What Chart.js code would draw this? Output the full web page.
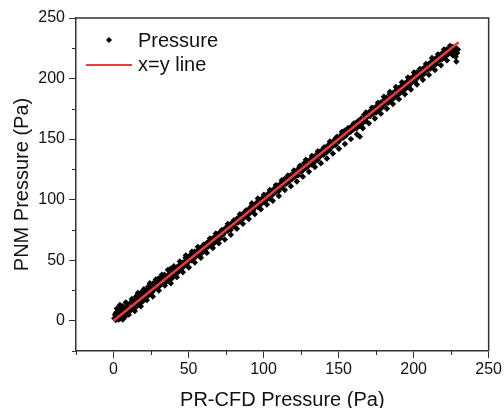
<!DOCTYPE html>
<html>
<head>
<meta charset="utf-8">
<script src="https://cdn.jsdelivr.net/npm/chart.js@4/dist/chart.umd.min.js"></script>
<style>
  html, body { margin: 0; padding: 0; background: #fff; }
  #wrap { width: 504px; height: 408px; }
</style>
</head>
<body>
<div id="wrap"><canvas id="myChart" width="504" height="408"></canvas></div>
<script>
// [PR-CFD pressure, PNM pressure]
const pressurePoints = [
  [0.5,2],[1,5],[1.5,0.5],[2,7],[2.5,3],[3,9],[3.5,4],[4,6],[4.5,11],[5,2],[5.5,8],[6,12],[6.5,5],[7,9],
  [7.5,3],[8,10],[8.5,7],[9,14],[9.5,6],[10,11],[11,8],[11.5,15],[12,10],[13,17],[13.5,9],[14,13],[15,20],
  [15.5,12],[16,18],[17,22],[17.5,14],[18,19],[19,24],[19.5,16],[20,21],[21,18],[22,25],[22.5,20],[23,28],
  [24,22],[25,27],[26,24],[26.5,31],[27,26],[28,30],[29,27],[30,35],[31,29],[32,36],[32.5,31],[33,34],
  [34,38],[35,32],[36,37],[37,34],[38,43],[38.5,36],[39,35],[40,41],[41,39],[42,44],[43,40],[44,46],
  [45,42],[46,48],[47,45],[48,52],[49,47],[50,49],[51,54],[52,50],[53,51],[54,57],[55,53],[56,58],[57,55],
  [58,60],[59,56],[60,62],[61,58],[62,64],[63,61],[64,66],[65,62],[66,68],[67,64],[68,70],[69,66],[70,72],
  [71,68],[72,74],[73,71],[74,73],[75,77],[76,74],[77,79],[78,75],[79,81],[80,78],[81,80],[82,84],[83,81],
  [84,86],[85,83],[86,88],[87,85],[88,90],[89,87],[90,92],[91,89],[92,95],[93,91],[94,93],[95,97],[96,94],
  [97,99],[98,96],[99,101],[100,98],[101,103],[102,100],[103,105],[104,101],[105,107],[106,104],[107,109],
  [108,106],[109,111],[110,107],[111,113],[112,110],[113,112],[114,117],[115,113],[116,118],[117,115],
  [118,120],[119,117],[120,122],[121,119],[122,124],[123,120],[124,127],[125,123],[126,124],[127,130],
  [128,126],[129,131],[130,128],[131,133],[132,129],[133,135],[134,131],[135,137],[136,133],[137,139],
  [138,136],[139,141],[140,137],[141,143],[142,139],[143,145],[144,141],[145,147],[146,144],[147,149],
  [148,145],[149,152],[150,148],[151,150],[152,154],[153,151],[154,157],[155,153],[156,155],[157,159],
  [158,156],[159,161],[160,158],[161,163],[162,159],[163,165],[164,161],[165,167],[166,163],[167,170],
  [168,165],[169,168],[170,172],[171,169],[172,174],[173,171],[174,176],[175,172],[176,178],[177,174],
  [178,180],[179,176],[180,182],[181,179],[182,184],[183,180],[184,187],[185,182],[186,188],[187,184],
  [188,190],[189,186],[190,192],[191,188],[192,194],[193,190],[194,196],[195,192],[196,198],[197,194],
  [198,200],[199,197],[200,202],[201,198],[202,205],[203,201],[204,206],[205,202],[206,208],[207,204],
  [208,210],[209,207],[210,212],[211,208],[212,214],[213,210],[214,216],[215,212],[216,218],[217,215],
  [218,220],[219,216],[220,222],[221,218],[222,224],[223,220],[224,225],[225,222],[226,226],[227,223],
  [228,218],[229,221],[229.5,224],
  [1.5,6],[3.5,1],[5.5,4],[7.5,8],[9.5,10],[11.5,9],[13.5,14],[15.5,16],[17.5,19],[19.5,20],[21.5,23],
  [23.5,25],[25.5,24],[27.5,29],[29.5,31],[31.5,33],[33.5,32],[35.5,36],[37.5,39],[39.5,38],[41.5,42],
  [43.5,44],[45.5,45],[47.5,49],[49.5,51],[51.5,52],[53.5,55],[55.5,56],[57.5,57],[59.5,60],[61.5,61],
  [63.5,63],[65.5,66],[67.5,67],[69.5,69],[71.5,71],[73.5,75],[75.5,76],[77.5,77],[79.5,79],[81.5,82],
  [83.5,83],[85.5,86],[87.5,87],[89.5,89],[91.5,92],[93.5,94],[95.5,95],[97.5,97],[99.5,100],[101.5,101],
  [103.5,103],[105.5,105],[107.5,107],[109.5,109],[111.5,111],[113.5,114],[115.5,116],[117.5,117],
  [119.5,119],[121.5,121],[123.5,124],[125.5,126],[127.5,127],[129.5,129],[131.5,131],[133.5,134],
  [135.5,135],[137.5,137],[139.5,140],[141.5,141],[143.5,143],[145.5,145],[147.5,148],[149.5,150],
  [151.5,152],[153.5,153],[155.5,154],[157.5,157],[159.5,159],[161.5,161],[163.5,163],[165.5,165],
  [167.5,167],[169.5,170],[171.5,171],[173.5,173],[175.5,175],[177.5,177],[179.5,179],[181.5,182],
  [183.5,183],[185.5,185],[187.5,187],[189.5,189],[191.5,191],[193.5,193],[195.5,195],[197.5,197],
  [199.5,199],[201.5,201],[203.5,204],[205.5,205],[207.5,207],[209.5,209],[211.5,211],[213.5,213],
  [215.5,215],[217.5,217],[219.5,219],[221.5,221],[223.5,223],[225.5,224],
  [2.2,10],[4.2,13],[6.2,1],[8.2,15],[10.2,5],[12.2,18],[14.2,8],[16.2,23],[18.2,12],[20.2,26],[22.2,17],
  [24.2,31],[26.2,20],[28.2,34],[30.2,25],[32.2,38],[34.2,29],[36.2,42],[38.2,31],[40.2,45],[42.2,36],
  [44.2,49],[46.2,40],[48.2,54],[50.2,44],[52.2,57],[54.2,48],[56.2,61],[58.2,52],[60.2,63],[62.2,56],
  [64.2,68],[66.2,60],[68.2,72],[70.2,64],[72.2,75],[74.2,67],[76.2,80],[78.2,71],[80.2,83],[82.2,76],
  [84.2,88],[86.2,80],[88.2,91],[90.2,84],[92.2,97],[94.2,88],[96.2,101],[98.2,92],[100.2,104],[102.2,96],
  [104.2,108],[106.2,99],[108.2,112],[110.2,103],[112.2,116],[114.2,108],[116.2,120],[118.2,111],
  [120.2,124],[122.2,115],[124.2,128],[126.2,119],[128.2,133],[130.2,123],[132.2,136],[134.2,127],
  [136.2,140],[138.2,130],[140.2,143],[142.2,134],[144.2,148],[146.2,138],[148.2,151],[150.2,142],
  [152.2,156],[154.2,146],[156.2,159],[158.2,150],[160.2,163],[162.2,154],[164.2,152],[166.2,159],
  [168.2,172],[170.2,163],[172.2,176],[174.2,167],[176.2,180],[178.2,171],[180.2,185],[182.2,175],
  [184.2,189],[186.2,179],[188.2,193],[190.2,183],[192.2,197],[194.2,187],[196.2,201],[198.2,191],
  [200.2,205],[202.2,195],[204.2,208],[206.2,199],[208.2,212],[210.2,203],[212.2,217],[214.2,207],
  [216.2,220],[218.2,211],[220.2,224],[222.2,215],[224.2,227],[226.2,219],[228.5,214],[227.5,226]
];
const lineX = [0, 230];
const lineY = [0, 230];
const majorTicks = [0, 50, 100, 150, 200, 250];
const minorTicks = [-25, 25, 75, 125, 175, 225];

const axisColor = '#333';
const red = '#f03a3a';
const fontName = '"Liberation Sans", Arial, sans-serif';

// top/right box, minor ticks and the legend
const extras = {
  id: 'extras',
  afterDraw(chart) {
    const ctx = chart.ctx;
    const a = chart.chartArea;
    ctx.save();
    ctx.strokeStyle = axisColor;
    ctx.lineWidth = 1.5;
    ctx.beginPath();
    ctx.moveTo(a.left, a.top);
    ctx.lineTo(a.right, a.top);
    ctx.lineTo(a.right, a.bottom);
    ctx.stroke();

    ctx.lineWidth = 1;
    ctx.beginPath();
    minorTicks.forEach(v => {
      const px = Math.round(chart.scales.x.getPixelForValue(v)) + 0.5;
      ctx.moveTo(px, a.bottom);
      ctx.lineTo(px, a.bottom + 4);
      const py = Math.round(chart.scales.y.getPixelForValue(v)) + 0.5;
      ctx.moveTo(a.left, py);
      ctx.lineTo(a.left - 4, py);
    });
    ctx.stroke();

    // legend
    ctx.fillStyle = '#000';
    ctx.beginPath();
    ctx.moveTo(109, 37);
    ctx.lineTo(112, 40);
    ctx.lineTo(109, 43);
    ctx.lineTo(106, 40);
    ctx.closePath();
    ctx.fill();
    ctx.strokeStyle = red;
    ctx.lineWidth = 2;
    ctx.beginPath();
    ctx.moveTo(86, 65);
    ctx.lineTo(132, 65);
    ctx.stroke();
    ctx.fillStyle = '#111';
    ctx.font = '20px ' + fontName;
    ctx.textBaseline = 'middle';
    ctx.fillText('Pressure', 138, 41);
    ctx.fillText('x=y line', 138, 65);
    ctx.restore();
  }
};

const ctx = document.getElementById('myChart').getContext('2d');
const myChart = new Chart(ctx, {
  type: 'scatter',
  data: {
    datasets: [{
      label: 'x=y line',
      type: 'line',
      data: lineX.map((x, i) => ({ x: x, y: lineY[i] })),
      borderColor: red,
      borderWidth: 2.5,
      pointRadius: 0,
      fill: false,
      order: 0
    }, {
      label: 'Pressure',
      data: pressurePoints.map(p => ({ x: p[0], y: p[1] })),
      pointStyle: 'rectRot',
      pointRadius: 3.2,
      backgroundColor: '#000',
      borderColor: '#000',
      borderWidth: 0,
      order: 1
    }]
  },
  options: {
    responsive: false,
    animation: false,
    layout: { padding: { left: 0, top: 18, right: 15, bottom: 0 } },
    scales: {
      x: {
        type: 'linear',
        min: -25,
        max: 250,
        afterFit(scale) { scale.height = 57; },
        afterBuildTicks(scale) { scale.ticks = majorTicks.map(v => ({ value: v })); },
        grid: {
          drawOnChartArea: false,
          tickLength: 7,
          tickColor: axisColor,
          tickWidth: 1
        },
        border: { color: axisColor, width: 1.5 },
        ticks: {
          color: '#111',
          padding: 2,
          maxRotation: 0,
          autoSkip: false,
          font: { family: fontName, size: 16 }
        },
        title: {
          display: true,
          text: 'PR-CFD Pressure (Pa)',
          color: '#111',
          padding: { top: 0, bottom: 0 },
          font: { family: fontName, size: 20, lineHeight: 0.8 }
        }
      },
      y: {
        type: 'linear',
        min: -25,
        max: 250,
        afterFit(scale) { scale.width = 76; },
        afterBuildTicks(scale) { scale.ticks = majorTicks.map(v => ({ value: v })); },
        grid: {
          drawOnChartArea: false,
          tickLength: 7,
          tickColor: axisColor,
          tickWidth: 1
        },
        border: { color: axisColor, width: 1.5 },
        ticks: {
          color: '#111',
          padding: 4,
          autoSkip: false,
          font: { family: fontName, size: 16 }
        },
        title: {
          display: true,
          text: 'PNM Pressure (Pa)',
          color: '#111',
          padding: { top: 14, bottom: 0 },
          font: { family: fontName, size: 20, lineHeight: 0.8 }
        }
      }
    },
    plugins: {
      legend: { display: false },
      tooltip: { enabled: false }
    }
  },
  plugins: [extras]
});
</script>
</body>
</html>
